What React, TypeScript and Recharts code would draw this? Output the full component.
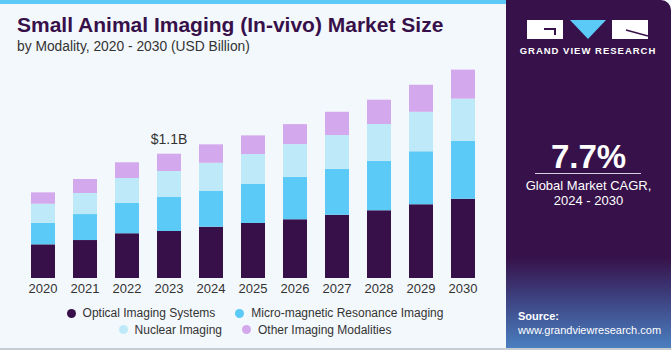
import { Bar, BarChart, LabelList, XAxis, YAxis } from "recharts";

const years = ["2020", "2021", "2022", "2023", "2024", "2025", "2026", "2027", "2028", "2029", "2030"];
const optical = [0.298, 0.336, 0.396, 0.416, 0.454, 0.487, 0.519, 0.56, 0.599, 0.652, 0.702];
const microMri = [0.191, 0.23, 0.268, 0.301, 0.316, 0.345, 0.377, 0.407, 0.439, 0.469, 0.513];
const nuclear = [0.168, 0.186, 0.221, 0.23, 0.25, 0.265, 0.289, 0.298, 0.325, 0.35, 0.372];
const other = [0.101, 0.124, 0.139, 0.153, 0.163, 0.165, 0.177, 0.206, 0.215, 0.239, 0.257];
const highlightYear = "2023";
const highlightLabel = "$1.1B";

const series = [
  { key: "optical", name: "Optical Imaging Systems", color: "#37104a" },
  { key: "microMri", name: "Micro-magnetic Resonance Imaging", color: "#5ccaf6" },
  { key: "nuclear", name: "Nuclear Imaging", color: "#bee9f9" },
  { key: "other", name: "Other Imaging Modalities", color: "#d4a8ec" },
];

const data = years.map((year, i) => ({
  year,
  optical: optical[i],
  microMri: microMri[i],
  nuclear: nuclear[i],
  other: other[i],
}));

const font = "'Liberation Sans', Arial, sans-serif";

function TopLabel(props: any) {
  const { x, y, width, index } = props;
  if (years[index] !== highlightYear) return null;
  return (
    <text x={x + width / 2} y={y - 10} textAnchor="middle" fontSize={14} fill="#333" fontFamily={font}>
      {highlightLabel}
    </text>
  );
}

function LegendItem({ name, color }: { name: string; color: string }) {
  return (
    <span style={{ display: "inline-flex", alignItems: "center", margin: "0 10px" }}>
      <span style={{ width: 9, height: 9, borderRadius: 5, background: color, marginRight: 7, display: "inline-block" }} />
      {name}
    </span>
  );
}

export default function App() {
  return (
    <div style={{ position: "absolute", left: 0, top: 0, width: 671, height: 350, background: "#f3f8fc", fontFamily: font, overflow: "hidden" }}>
      <div style={{ position: "absolute", left: 0, top: 0, width: 510, height: 4, background: "#5ccaf6" }} />
      <div style={{ position: "absolute", left: 0, bottom: 0, width: 671, height: 2, background: "#c8cdd2" }} />

      <div style={{ position: "absolute", left: 17, top: 13, fontSize: 21, fontWeight: 700, color: "#37104a", whiteSpace: "nowrap" }}>
        Small Animal Imaging (In-vivo) Market Size
      </div>
      <div style={{ position: "absolute", left: 17, top: 39, fontSize: 13.8, color: "#333", whiteSpace: "nowrap" }}>
        by Modality, 2020 - 2030 (USD Billion)
      </div>

      <div style={{ position: "absolute", left: 0, top: 0 }}>
        <BarChart width={500} height={300} data={data} margin={{ top: 52, right: 16, bottom: 0, left: 22 }} barSize={24}>
          <XAxis dataKey="year" axisLine={false} tickLine={false} tickSize={4} height={22} interval={0}
            tick={{ fontSize: 13, fill: "#333", fontFamily: font }} />
          <YAxis hide domain={[0, 2]} />
          {series.map((s, i) => (
            <Bar key={s.key} dataKey={s.key} stackId="a" fill={s.color} isAnimationActive={false}>
              {i === series.length - 1 && <LabelList content={TopLabel} />}
            </Bar>
          ))}
        </BarChart>
      </div>

      <div style={{ position: "absolute", left: 0, top: 305, width: 510, fontSize: 12, color: "#333", textAlign: "center", lineHeight: "16px" }}>
        <div>
          <LegendItem name={series[0].name} color={series[0].color} />
          <LegendItem name={series[1].name} color={series[1].color} />
        </div>
        <div>
          <LegendItem name={series[2].name} color={series[2].color} />
          <LegendItem name={series[3].name} color={series[3].color} />
        </div>
      </div>

      <div style={{ position: "absolute", left: 506, top: 0, width: 165, height: 348, borderTopRightRadius: 10,
        background: "linear-gradient(180deg, #37124a 0%, #37124a 74%, #3c3a78 84%, #4a7fc0 100%)", color: "#fff" }}>
        <svg width={165} height={60} style={{ position: "absolute", left: 0, top: 0 }}>
          <rect x={21} y={20} width={36} height={19} fill="#fff" />
          <rect x={38} y={28} width={12} height={2} fill="#37124a" />
          <rect x={48} y={28} width={2} height={7} fill="#37124a" />
          <polygon points="64,20 100,20 82,39" fill="#5ccaf6" />
          <rect x={106} y={20} width={36} height={19} fill="#fff" />
          <line x1={120} y1={30} x2={142} y2={36} stroke="#37124a" strokeWidth={1.5} />
          <text x={82} y={54} textAnchor="middle" fontSize={9.5} fontWeight={700} fill="#fff" letterSpacing={1} fontFamily={font}>
            GRAND VIEW RESEARCH
          </text>
        </svg>
        <div style={{ position: "absolute", left: 0, top: 138, width: 165, textAlign: "center", fontSize: 33, fontWeight: 700 }}>7.7%</div>
        <div style={{ position: "absolute", left: 29, top: 173, width: 106, height: 1, background: "#d8cfe0" }} />
        <div style={{ position: "absolute", left: 0, top: 178, width: 165, textAlign: "center", fontSize: 13, lineHeight: "15px" }}>
          Global Market CAGR,<br />2024 - 2030
        </div>
        <div style={{ position: "absolute", left: 12, top: 309, fontSize: 11, lineHeight: "14px" }}>
          <div style={{ fontWeight: 700 }}>Source:</div>
          <div>www.grandviewresearch.com</div>
        </div>
      </div>
    </div>
  );
}
